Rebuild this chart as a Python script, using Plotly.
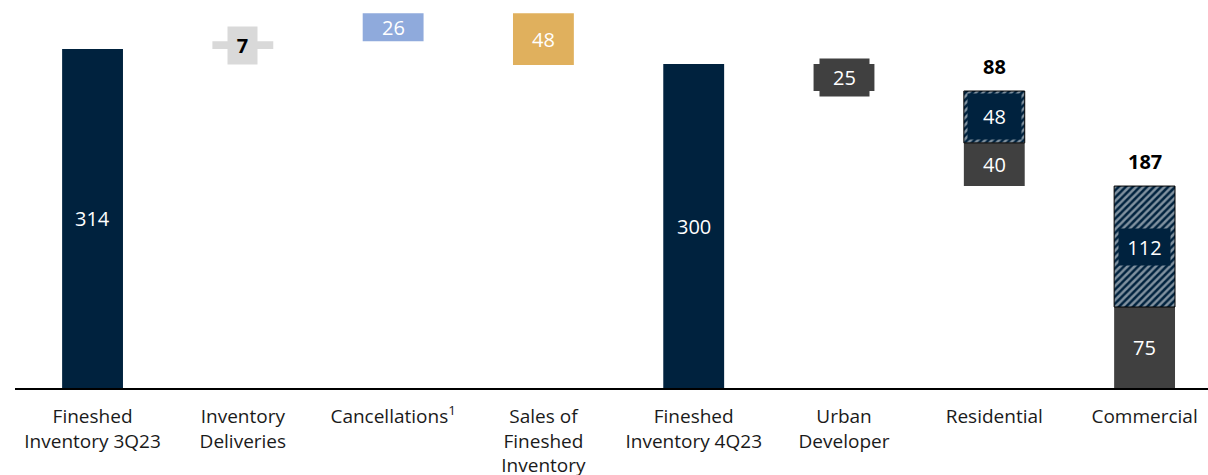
import plotly.graph_objects as go

# Inventory bridge, 3Q23 -> 4Q23, plus split of ending inventory
categories = [
    "Fineshed<br>Inventory 3Q23",
    "Inventory<br>Deliveries",
    "Cancellations<sup>1</sup>",
    "Sales of<br>Fineshed<br>Inventory",
    "Fineshed<br>Inventory 4Q23",
    "Urban<br>Developer",
    "Residential",
    "Commercial",
]
opening_inventory = 314
deliveries = 7
cancellations = 26
sales = -48
closing_inventory = 300
urban_developer = -25
residential_parts = [40, 48]   # solid, hatched
commercial_parts = [75, 112]   # solid, hatched

NAVY = "#00223e"
LIGHT_GRAY = "#d9d9d9"
LIGHT_BLUE = "#8faadc"
GOLD = "#e0b05d"
DARK_GRAY = "#404040"
FONT = "Open Sans"

# running bases for the floating steps
deliv_base = opening_inventory
canc_base = deliv_base + deliveries
sales_base = canc_base + cancellations
urban_base = closing_inventory
res_total = sum(residential_parts)
res_base = urban_base + urban_developer - res_total
com_total = sum(commercial_parts)

hatch = dict(shape="/", fgcolor="white", bgcolor=NAVY, size=5, solidity=0.5)

fig = go.Figure()


def add_bar(cat, value, base, color, pattern=None, outline=0):
    marker = dict(color=color, line=dict(color="black", width=outline))
    if pattern:
        marker["pattern"] = pattern
    fig.add_trace(go.Bar(x=[cat], y=[value], base=[base], marker=marker,
                         width=0.405, hoverinfo="skip", showlegend=False))


add_bar(categories[0], opening_inventory, 0, NAVY)
add_bar(categories[1], deliveries, deliv_base, LIGHT_GRAY)
add_bar(categories[2], cancellations, canc_base, LIGHT_BLUE)
add_bar(categories[3], sales, sales_base, GOLD)
add_bar(categories[4], closing_inventory, 0, NAVY)
add_bar(categories[5], urban_developer, urban_base, DARK_GRAY)
add_bar(categories[6], residential_parts[0], res_base, DARK_GRAY)
add_bar(categories[6], residential_parts[1], res_base + residential_parts[0], NAVY, hatch, 1)
add_bar(categories[7], commercial_parts[0], 0, DARK_GRAY)
add_bar(categories[7], commercial_parts[1], commercial_parts[0], NAVY, hatch, 1)


def label(cat, y, value, color="white", bold=False, bg=None, w=None, h=None,
          yanchor="middle", yshift=0):
    txt = f"<b>{abs(value)}</b>" if bold else f"{abs(value)}"
    kw = dict(x=cat, y=y, text=txt, showarrow=False, yanchor=yanchor, yshift=yshift,
              font=dict(family=FONT, size=20, color=color))
    if bg:
        kw.update(bgcolor=bg, borderpad=0, width=w, height=h)
    fig.add_annotation(**kw)


label(categories[0], opening_inventory / 2, opening_inventory)
label(categories[1], deliv_base + deliveries / 2, deliveries, color="black", bold=True,
      bg=LIGHT_GRAY, w=29, h=37)
label(categories[2], canc_base + cancellations / 2, cancellations)
label(categories[3], sales_base + sales / 2, sales)
label(categories[4], closing_inventory / 2, closing_inventory)
label(categories[5], urban_base + urban_developer / 2, urban_developer,
      bg=DARK_GRAY, w=49, h=37)
label(categories[6], res_base + residential_parts[0] / 2, residential_parts[0])
label(categories[6], res_base + residential_parts[0] + residential_parts[1] / 2,
      residential_parts[1], bg=NAVY, w=53, h=45)
label(categories[6], res_base + res_total, res_total, color="black", bold=True,
      yanchor="bottom", yshift=9)
label(categories[7], commercial_parts[0] / 2, commercial_parts[0])
label(categories[7], commercial_parts[0] + commercial_parts[1] / 2, commercial_parts[1],
      bg=NAVY, w=51, h=36)
label(categories[7], com_total, com_total, color="black", bold=True,
      yanchor="bottom", yshift=9)

fig.update_layout(
    width=1208, height=475,
    margin=dict(l=15, r=0, t=0, b=87),
    barmode="overlay",
    plot_bgcolor="white", paper_bgcolor="white",
    font=dict(family=FONT, size=19, color="#1a1a1a"),
    xaxis=dict(type="category", range=[-0.516, 7.422], showline=True,
               linecolor="black", linewidth=2, showgrid=False, zeroline=False,
               automargin=False,
               ticks="outside", ticklen=10, tickcolor="rgba(0,0,0,0)",
               tickfont=dict(family=FONT, size=19, color="#1a1a1a")),
    yaxis=dict(visible=False, range=[0, 359.3], showgrid=False, zeroline=False,
               automargin=False),
)

fig.write_html("out.html")
